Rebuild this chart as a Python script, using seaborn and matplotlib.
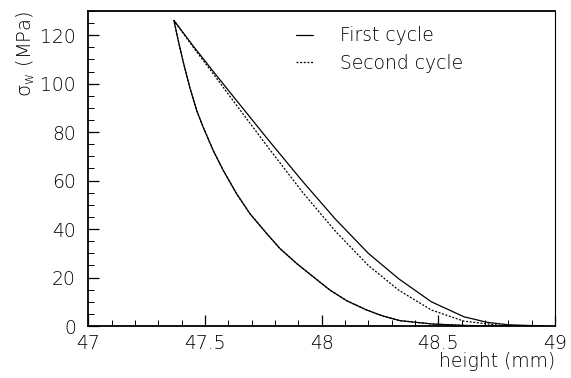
import matplotlib
matplotlib.use("Agg")
import matplotlib.pyplot as plt
import seaborn as sns
import pandas as pd
from matplotlib.ticker import MultipleLocator, FuncFormatter

# Loading branch (height in mm, stress in MPa), shared by both cycles
load_height = [48.95, 48.76, 48.62, 48.477, 48.336, 48.263, 48.193, 48.108,
               48.036, 47.964, 47.893, 47.822, 47.765, 47.693, 47.636, 47.579,
               47.536, 47.493, 47.465, 47.435, 47.406, 47.384, 47.367]
load_stress = [0.0, 0.05, 0.2, 0.8, 2.2, 4.1, 6.6, 10.4,
               14.8, 20.3, 25.8, 31.9, 38.1, 46.3, 54.5, 64.1,
               72.3, 81.9, 88.8, 98.4, 109.3, 118.4, 126.1]

# Unloading branch, first cycle
unload1_height = [47.367, 47.45, 47.54, 47.64, 47.78, 47.92, 48.06, 48.20,
                  48.33, 48.47, 48.61, 48.71, 48.80, 48.95]
unload1_stress = [126.1, 115.5, 104.5, 92.5, 75.8, 59.5, 44.0, 30.0,
                  19.5, 10.0, 3.8, 1.5, 0.5, 0.0]

# Unloading branch, second cycle
unload2_height = [47.367, 47.45, 47.54, 47.64, 47.78, 47.92, 48.06, 48.20,
                  48.33, 48.47, 48.61, 48.76, 48.90]
unload2_stress = [126.1, 115.0, 103.5, 90.5, 72.5, 55.0, 39.0, 25.0,
                  14.8, 6.6, 2.0, 0.3, 0.0]

cycles = ["First cycle", "Second cycle"]

frames = []
for name, uh, us in [(cycles[0], unload1_height, unload1_stress),
                     (cycles[1], unload2_height, unload2_stress)]:
    frames.append(pd.DataFrame({
        "height": load_height + uh,
        "stress": load_stress + us,
        "cycle": name,
    }))
df = pd.concat(frames, ignore_index=True)

sns.set_theme(style="white")
plt.rcParams["font.family"] = ["DejaVu Sans"]
plt.rcParams["mathtext.default"] = "regular"
plt.rcParams["text.color"] = "black"
plt.rcParams["axes.labelcolor"] = "black"
plt.rcParams["xtick.color"] = "black"
plt.rcParams["ytick.color"] = "black"

fig = plt.figure(figsize=(5.71, 3.78), dpi=100)
ax = fig.add_axes([88.3 / 571, 1 - 326 / 378, (555 - 88.3) / 571, (326 - 11) / 378])

sns.lineplot(data=df, x="height", y="stress", style="cycle", sort=False,
             estimator=None, color="black", linewidth=0.9,
             dashes={cycles[0]: "", cycles[1]: (1.6, 1.3)}, ax=ax)

ax.set_xlim(47, 49)
ax.set_ylim(0, 130)
ax.xaxis.set_major_locator(MultipleLocator(0.5))
ax.xaxis.set_minor_locator(MultipleLocator(0.1))
ax.yaxis.set_major_locator(MultipleLocator(20))
ax.yaxis.set_minor_locator(MultipleLocator(5))
ax.xaxis.set_major_formatter(FuncFormatter(lambda v, p: f"{v:g}"))
ax.tick_params(which="both", direction="in", bottom=True, left=True,
               top=False, right=False, color="black", labelsize=13.5,
               labelcolor="black")
ax.tick_params(which="major", length=8, width=0.9)
ax.tick_params(which="minor", length=4, width=0.7)
ax.tick_params(axis="x", which="major", pad=6)
ax.tick_params(axis="y", which="major", pad=9)
for lab in ax.get_xticklabels() + ax.get_yticklabels():
    lab.set_fontweight("light")

for side in ["left", "bottom", "top"]:
    ax.spines[side].set_color("black")
    ax.spines[side].set_linewidth(1.3)
ax.spines["right"].set_color("black")
ax.spines["right"].set_linewidth(0.8)

ax.set_xlabel("height (mm)", loc="right", fontsize=13.5, labelpad=-1,
              fontweight="light", color="black")
ax.set_ylabel("σ$_{w}$ (MPa)", loc="top", fontsize=14, labelpad=2,
              fontweight="light", color="black")

leg = ax.legend(loc="upper left", bbox_to_anchor=(0.43, 0.975), frameon=False,
                fontsize=13.5, handlelength=0.9, handletextpad=1.4,
                labelspacing=0.45, borderaxespad=0)
for t in leg.get_texts():
    t.set_fontweight("light")
    t.set_color("black")

fig.savefig("out.png", dpi=100, facecolor="white")
